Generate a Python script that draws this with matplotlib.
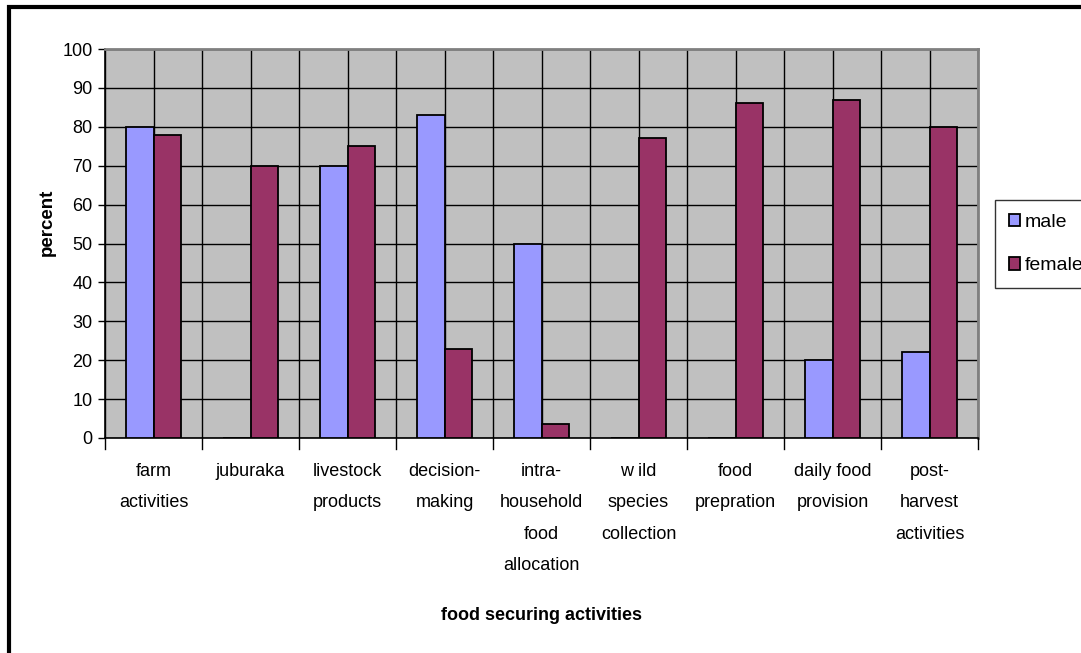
import matplotlib
matplotlib.use("Agg")
import matplotlib.pyplot as plt
from matplotlib.patches import Rectangle
import numpy as np

plt.rcParams['font.family'] = ['Liberation Sans', 'DejaVu Sans']

categories = ["farm\nactivities", "juburaka", "livestock\nproducts", "decision-\nmaking",
              "intra-\nhousehold\nfood\nallocation", "w ild\nspecies\ncollection",
              "food\nprepration", "daily food\nprovision", "post-\nharvest\nactivities"]
male = [80, 0, 70, 83, 50, 0, 0, 20, 22]
female = [78, 70, 75, 23, 3.5, 77, 86, 87, 80]
yticks = list(range(0, 101, 10))

fig = plt.figure(figsize=(10.81, 6.53), dpi=100)
ax = fig.add_axes([105 / 1081, 1 - 438 / 653, 873 / 1081, 389 / 653])
ax.set_facecolor("#C0C0C0")

x = np.arange(len(categories))
w = 0.285
ax.bar(x - w / 2, male, w, color="#9999FF", edgecolor="black", linewidth=1.3, label="male", zorder=3)
ax.bar(x + w / 2, female, w, color="#993366", edgecolor="black", linewidth=1.3, label="female", zorder=3)

ax.set_xlim(-0.5, len(categories) - 0.5)
ax.set_ylim(0, 100)
ax.set_yticks(yticks)
ax.set_xticks(x)
ax.set_xticklabels(categories, fontsize=13, linespacing=2.1, va="top")
ax.tick_params(axis="x", length=0, pad=18)
ax.tick_params(axis="y", length=5, width=1, labelsize=13, pad=4, direction="out")

# grid lines: horizontal at every tick, vertical at every half category
for yv in yticks:
    ax.axhline(yv, color="black", linewidth=1, zorder=1)
for xv in np.arange(-0.5, len(categories), 0.5):
    ax.axvline(xv, color="black", linewidth=1, zorder=1)
# tick marks below the x axis at category boundaries
for xv in np.arange(-0.5, len(categories), 1.0):
    ax.plot([xv, xv], [0, -2.8], color="black", linewidth=1, clip_on=False, zorder=4)

for s in ["left", "bottom"]:
    ax.spines[s].set_color("black")
    ax.spines[s].set_linewidth(1.2)
for s in ["top", "right"]:
    ax.spines[s].set_color("#808080")
    ax.spines[s].set_linewidth(2)

ax.set_xlabel("food securing activities", fontsize=13, fontweight="bold", labelpad=24)
fig.text(47 / 1081, 1 - 222 / 653, "percent", rotation=90, fontsize=13.5, fontweight="bold",
         ha="center", va="center")

leg = fig.legend(loc="upper left", bbox_to_anchor=(995 / 1081, 1 - 200 / 653),
                 fontsize=14, frameon=True, fancybox=False, edgecolor="black",
                 handlelength=0.57, handleheight=0.62, handletextpad=0.25,
                 labelspacing=1.35, borderpad=0.7, borderaxespad=0)
leg.get_frame().set_linewidth(1)

# outer chart frame
fig.patches.append(Rectangle((8.5 / 1081, -0.1), 1.2, 1.1 - 7.5 / 653, transform=fig.transFigure,
                             fill=False, edgecolor="black", linewidth=3))

fig.savefig("out.png", dpi=100)
